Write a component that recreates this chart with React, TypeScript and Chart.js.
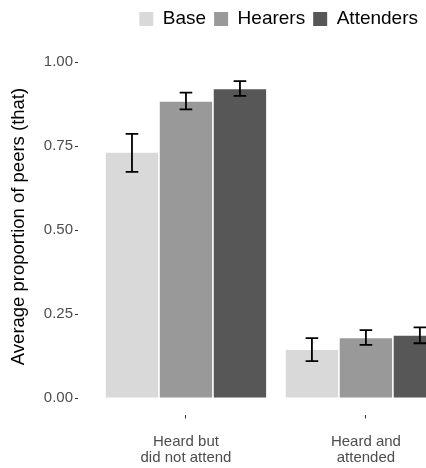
import React, { useEffect, useRef } from "react";
import { Chart, registerables } from "chart.js";

Chart.register(...registerables);

// ---- Data ----
const categories: string[][] = [
  ["Heard but", "did not attend"],
  ["Heard and", "attended"],
];
const groupPositions = [1, 2];
const seriesNames = ["Base", "Hearers", "Attenders"];
const baseValues = [0.73, 0.143];
const hearersValues = [0.882, 0.178];
const attendersValues = [0.919, 0.185];
const baseLower = [0.673, 0.11];
const baseUpper = [0.786, 0.178];
const hearersLower = [0.859, 0.158];
const hearersUpper = [0.909, 0.202];
const attendersLower = [0.899, 0.163];
const attendersUpper = [0.943, 0.21];
const yTicks = [0, 0.25, 0.5, 0.75, 1];
const yTickLabels = ["0.00", "0.25", "0.50", "0.75", "1.00"];
const seriesColors = ["#D9D9D9", "#999999", "#575757"];

const seriesValues = [baseValues, hearersValues, attendersValues];
const seriesLower = [baseLower, hearersLower, attendersLower];
const seriesUpper = [baseUpper, hearersUpper, attendersUpper];

const FONT = "'Liberation Sans', Arial, Helvetica, sans-serif";

const errorBarPlugin = {
  id: "errorBars",
  afterDatasetsDraw(chart: any) {
    const ctx = chart.ctx;
    const yScale = chart.scales.y;
    chart.data.datasets.forEach((_ds: any, di: number) => {
      const meta = chart.getDatasetMeta(di);
      meta.data.forEach((el: any, i: number) => {
        const x = el.x;
        const lo = yScale.getPixelForValue(seriesLower[di][i]);
        const hi = yScale.getPixelForValue(seriesUpper[di][i]);
        const half = 6.3;
        ctx.save();
        ctx.strokeStyle = "#000000";
        ctx.lineWidth = 1.8;
        ctx.beginPath();
        ctx.moveTo(x, lo);
        ctx.lineTo(x, hi);
        ctx.moveTo(x - half, lo);
        ctx.lineTo(x + half, lo);
        ctx.moveTo(x - half, hi);
        ctx.lineTo(x + half, hi);
        ctx.stroke();
        ctx.restore();
      });
    });
  },
};

export default function App() {
  const canvasRef = useRef<HTMLCanvasElement | null>(null);

  useEffect(() => {
    if (!canvasRef.current) return;
    Chart.defaults.font.family = FONT;
    const chart = new Chart(canvasRef.current, {
      type: "bar",
      data: {
        datasets: seriesNames.map((name, si) => ({
          label: name,
          data: groupPositions.map((x, i) => ({ x, y: seriesValues[si][i] })),
          backgroundColor: seriesColors[si],
          borderWidth: 0,
          categoryPercentage: 0.9,
          barPercentage: 0.97,
        })),
      },
      options: {
        animation: false,
        responsive: false,
        devicePixelRatio: 1,
        layout: { padding: { top: 1.5, left: 0, right: 0, bottom: 0 } },
        plugins: {
          legend: {
            display: true,
            position: "top",
            align: "end",
            labels: {
              boxWidth: 14,
              boxHeight: 14,
              padding: 8,
              color: "#000000",
              font: { family: FONT, size: 19 },
            },
          },
          tooltip: { enabled: false },
        },
        scales: {
          x: {
            type: "linear",
            offset: false,
            min: 0.4,
            max: 2.334,
            afterBuildTicks: (s: any) => {
              s.ticks = groupPositions.map((v) => ({ value: v }));
            },
            afterFit: (s: any) => {
              s.height = 53.5;
            },
            ticks: {
              autoSkip: false,
              maxRotation: 0,
              minRotation: 0,
              padding: 15,
              color: "#4D4D4D",
              font: { family: FONT, size: 15, lineHeight: "16px" },
              callback: (v: any) => categories[groupPositions.indexOf(v)] ?? "",
            },
            grid: {
              display: true,
              offset: false,
              drawOnChartArea: false,
              drawTicks: true,
              tickLength: 4,
              tickColor: "#333333",
              tickWidth: 1,
            },
            border: { display: false },
          },
          y: {
            type: "linear",
            min: -0.0491,
            max: 1.07,
            afterBuildTicks: (s: any) => {
              s.ticks = yTicks.map((v) => ({ value: v }));
            },
            afterFit: (s: any) => {
              s.width = 78;
            },
            ticks: {
              padding: 2,
              color: "#4D4D4D",
              font: { family: FONT, size: 15 },
              callback: (v: any) => yTickLabels[yTicks.indexOf(v)] ?? "",
            },
            grid: {
              display: true,
              drawOnChartArea: false,
              drawTicks: true,
              tickLength: 3,
              tickColor: "#333333",
              tickWidth: 1,
            },
            border: { display: false },
            title: {
              display: true,
              text: "Average proportion of peers (that)",
              color: "#000000",
              font: { family: FONT, size: 18.5 },
              padding: { top: 8, bottom: 0 },
            },
          },
        },
      },
      plugins: [errorBarPlugin],
    } as any);
    return () => chart.destroy();
  }, []);

  return (
    <div
      style={{
        position: "fixed",
        left: 0,
        top: 0,
        width: 426,
        height: 468,
        overflow: "hidden",
        background: "#ffffff",
      }}
    >
      <canvas
        ref={canvasRef}
        width={426}
        height={468}
        style={{ width: 426, height: 468, display: "block" }}
      />
    </div>
  );
}
